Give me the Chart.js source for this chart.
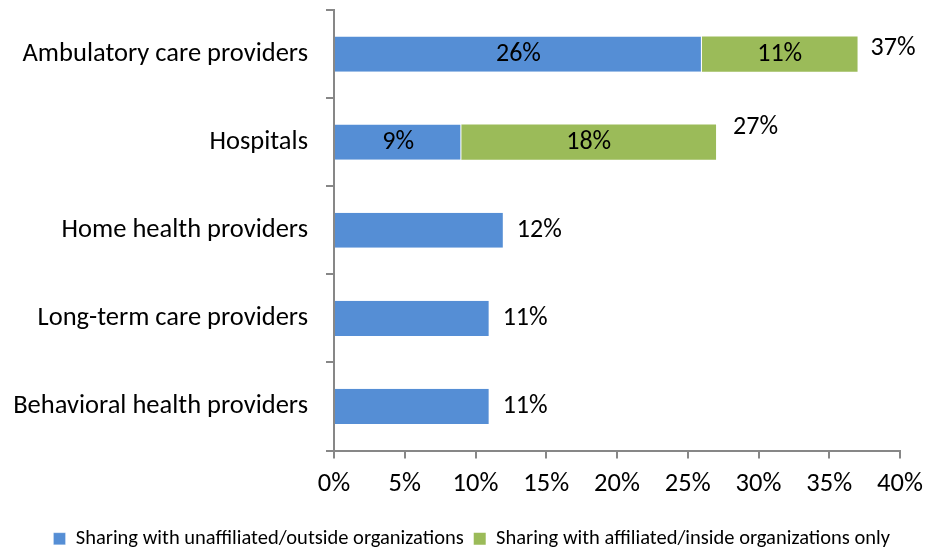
<!DOCTYPE html>
<html>
<head>
<meta charset="utf-8">
<script src="https://cdn.jsdelivr.net/npm/chart.js@4"></script>
<style>
  html, body { margin: 0; padding: 0; background: #fff; }
  #wrap { width: 929px; height: 549px; }
</style>
</head>
<body>
<div id="wrap"><canvas id="chart"></canvas></div>
<script>
// ── Data ──────────────────────────────────────────────────────
const categories  = ['Ambulatory care providers', 'Hospitals', 'Home health providers', 'Long-term care providers', 'Behavioral health providers'];
const outsideVals = [26, 9, 12, 11, 11];
const insideVals  = [11, 18, 0, 0, 0];
const xTicks      = [0, 5, 10, 15, 20, 25, 30, 35, 40];

const BLUE  = '#558ED5';
const GREEN = '#9BBB59';
const AXIS  = '#878787';
const FONT  = 'Carlito, "Open Sans", sans-serif';

// ── Labels plugin ─────────────────────────────────────────────
const barLabels = {
  id: 'barLabels',
  afterDatasetsDraw(chart) {
    const ctx = chart.ctx;
    const blue  = chart.getDatasetMeta(0).data;
    const green = chart.getDatasetMeta(1).data;
    ctx.save();
    ctx.font = '26px ' + FONT;
    ctx.fillStyle = '#000';
    ctx.textBaseline = 'middle';
    categories.forEach((c, i) => {
      const b = blue[i], g = green[i];
      if (insideVals[i] > 0) {
        ctx.textAlign = 'center';
        ctx.fillText(outsideVals[i] + '%', (b.x + b.base) / 2, b.y);
        ctx.fillText(insideVals[i] + '%', (g.x + g.base) / 2, g.y);
        // total, nudged up like the original
        ctx.textAlign = 'left';
        const lift = i === 0 ? 6 : 15;
        const gap  = i === 0 ? 13 : 17;
        ctx.fillText((outsideVals[i] + insideVals[i]) + '%', g.x + gap, g.y - lift);
      } else {
        ctx.textAlign = 'left';
        ctx.fillText(outsideVals[i] + '%', b.x + 13, b.y);
      }
    });
    ctx.restore();
  }
};

// drop the automatic edge padding that tick labels ask for
const noEdgePad = axis => {
  axis.paddingTop = 0;
  axis.paddingBottom = 0;
  axis.paddingLeft = 0;
  axis.paddingRight = 0;
};

// ── Chart ─────────────────────────────────────────────────────
new Chart(document.getElementById('chart'), {
  type: 'bar',
  data: {
    labels: categories,
    datasets: [
      {
        label: 'Sharing with unaffiliated/outside organizations',
        data: outsideVals,
        backgroundColor: BLUE,
        borderColor: '#ffffff',
        borderWidth: { right: 1 },
        borderSkipped: false,
        barPercentage: 0.4,
        categoryPercentage: 1
      },
      {
        label: 'Sharing with affiliated/inside organizations only',
        data: insideVals,
        backgroundColor: GREEN,
        barPercentage: 0.4,
        categoryPercentage: 1
      }
    ]
  },
  options: {
    indexAxis: 'y',
    animation: false,
    responsive: true,
    maintainAspectRatio: false,
    layout: { padding: { top: 10, right: 29, left: 0, bottom: -10 } },
    plugins: {
      tooltip: { enabled: false },
      legend: {
        position: 'bottom',
        align: 'end',
        labels: {
          color: '#000',
          font: { family: FONT, size: 20.5 },
          boxWidth: 12,
          boxHeight: 12,
          padding: 10
        }
      }
    },
    scales: {
      x: {
        stacked: true,
        min: 0,
        max: 40,
        afterBuildTicks: axis => { axis.ticks = xTicks.map(v => ({ value: v })); },
        afterFit: axis => { axis.height = 68; noEdgePad(axis); },
        ticks: {
          color: '#000',
          font: { family: FONT, size: 26.5 },
          padding: 10,
          maxRotation: 0,
          callback: v => v + '%'
        },
        grid: { drawOnChartArea: false, drawTicks: true, tickLength: 8, color: AXIS, lineWidth: 2 },
        border: { display: true, color: AXIS, width: 2 }
      },
      y: {
        stacked: true,
        afterFit: axis => { axis.width = 334; noEdgePad(axis); },
        ticks: {
          color: '#000',
          font: { family: FONT, size: 26.5 },
          padding: 18
        },
        grid: { drawOnChartArea: false, drawTicks: true, tickLength: 8, color: AXIS, lineWidth: 2, offset: true },
        border: { display: true, color: AXIS, width: 2 }
      }
    }
  },
  plugins: [barLabels]
});
</script>
</body>
</html>
